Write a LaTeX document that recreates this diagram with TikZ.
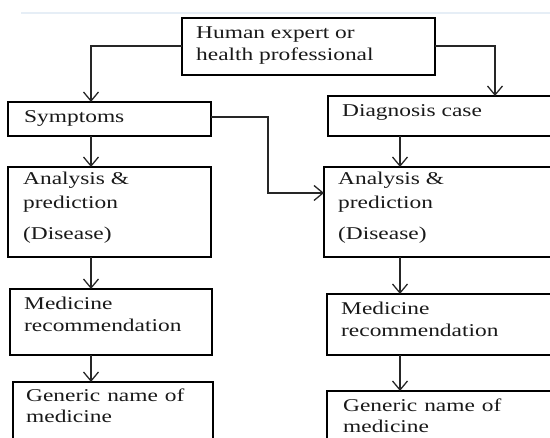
\documentclass[tikz,border=0pt]{standalone}
\usepackage{fontspec}
\setmainfont{Liberation Serif}[FakeStretch=1.3]
\usetikzlibrary{arrows.meta}
\begin{document}
\begin{tikzpicture}[x=1pt,y=-1pt,
  box/.style={draw=black, line width=1.4pt, inner sep=0pt, outer sep=0pt, anchor=north west, rectangle},
  lbl/.style={anchor=base west, inner sep=0pt, font=\fontsize{18pt}{22pt}\selectfont, text=black!90},
  conn/.style={draw=black!85, line width=1.3pt, -{Straight Barb[length=9pt,width=15pt,line width=1.3pt]}}]
\useasboundingbox (0,0) rectangle (550,438);
\draw[color={rgb,255:red,230;green,238;blue,246}, line width=1.5pt] (21,13) -- (550,13);
% boxes
\node[box, minimum width=253pt, minimum height=57pt] (top) at (182,18) {};
\node[box, minimum width=203pt, minimum height=34pt] (sym) at (8,102) {};
\node[box, minimum width=240pt, minimum height=40pt] (diag) at (328,96) {};
\node[box, minimum width=203pt, minimum height=90pt] (anlL) at (8,167) {};
\node[box, minimum width=240pt, minimum height=90pt] (anlR) at (324,167) {};
\node[box, minimum width=202pt, minimum height=66pt] (medL) at (10,289) {};
\node[box, minimum width=240pt, minimum height=61pt] (medR) at (327,294) {};
\node[box, minimum width=200pt, minimum height=70pt] (genL) at (13,382) {};
\node[box, minimum width=240pt, minimum height=70pt] (genR) at (327,391) {};
% texts
\node[lbl] (t1) at (196,39) {Human expert or};
\node[lbl] (t2) at (196,61) {health professional};
\node[lbl] (t3) at (24,123) {Symptoms};
\node[lbl] (t4) at (342,117) {Diagnosis case};
\node[lbl] (t5) at (23,185) {Analysis \&};
\node[lbl] (t6) at (23,209) {prediction};
\node[lbl] (t7) at (23,240) {(Disease)};
\node[lbl] (t8) at (338,185) {Analysis \&};
\node[lbl] (t9) at (338,209) {prediction};
\node[lbl] (t10) at (338,240) {(Disease)};
\node[lbl] (t11) at (24,310) {Medicine};
\node[lbl] (t12) at (24,332) {recommendation};
\node[lbl] (t13) at (341,315) {Medicine};
\node[lbl] (t14) at (341,337) {recommendation};
\node[lbl] (t15) at (26,402) {Generic\hspace{7pt}name\hspace{7pt}of};
\node[lbl] (t16) at (26,423) {medicine};
\node[lbl] (t17) at (343,412) {Generic\hspace{7pt}name\hspace{7pt}of};
\node[lbl] (t18) at (343,433) {medicine};
% guide coordinates
\coordinate (lc) at (91,0);
\coordinate (rc) at (400,0);
\coordinate (ty) at (0,46);
\coordinate (sy) at (0,117);
\coordinate (ay) at (0,193);
\coordinate (mx) at (268,0);
% connectors
\draw[conn] (top.west |- ty) -| (sym.north -| lc);
\draw[conn] (top.east |- ty) -| (diag.north -| 495,0);
\draw[conn] (sym.east |- sy) -| (mx |- ay) -- (anlR.west |- ay);
\draw[conn] (sym.south -| lc) -- (anlL.north -| lc);
\draw[conn] (diag.south -| rc) -- (anlR.north -| rc);
\draw[conn] (anlL.south -| lc) -- (medL.north -| lc);
\draw[conn] (anlR.south -| rc) -- (medR.north -| rc);
\draw[conn] (medL.south -| lc) -- (genL.north -| lc);
\draw[conn] (medR.south -| rc) -- (genR.north -| rc);
\end{tikzpicture}
\end{document}
